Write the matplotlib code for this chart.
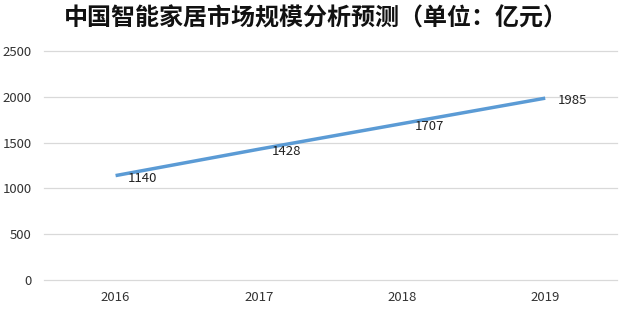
import matplotlib
matplotlib.use("Agg")
import matplotlib.pyplot as plt

plt.rcParams['font.family'] = ['Noto Sans CJK SC', 'DejaVu Sans']

years = ["2016", "2017", "2018", "2019"]
values = [1140, 1428, 1707, 1985]
yticks = [0, 500, 1000, 1500, 2000, 2500]
title = "中国智能家居市场规模分析预测（单位：亿元）"

fig = plt.figure(figsize=(6.22, 3.26), dpi=100)
ax = fig.add_axes([0.0707, 0.141, 0.921, 0.7026])
x = list(range(len(years)))
ax.plot(x, values, color="#5B9BD5", linewidth=2.5, solid_capstyle="butt")
for xi, v in zip(x, values):
    ax.annotate(str(v), (xi, v), xytext=(9, -2), textcoords="offset points",
                ha="left", va="center", fontsize=9.5, color="#222222")
ax.set_xlim(-0.5, len(years) - 0.5)
ax.set_ylim(0, 2500)
ax.set_xticks(x)
ax.set_xticklabels(years)
ax.set_yticks(yticks)
ax.tick_params(axis="both", length=0, labelsize=9.5, colors="#333333")
ax.tick_params(axis="x", pad=8)
ax.tick_params(axis="y", pad=9)
ax.grid(axis="y", color="#D9D9D9", linewidth=0.9)
for gl in ax.get_ygridlines():
    gl.set_clip_on(False)
ax.set_axisbelow(True)
for s in ax.spines.values():
    s.set_visible(False)
fig.text(0.508, 0.943, title, ha="center", va="center", fontsize=17.3, fontweight="bold", color="#111111")
fig.savefig("out.png", dpi=100)
